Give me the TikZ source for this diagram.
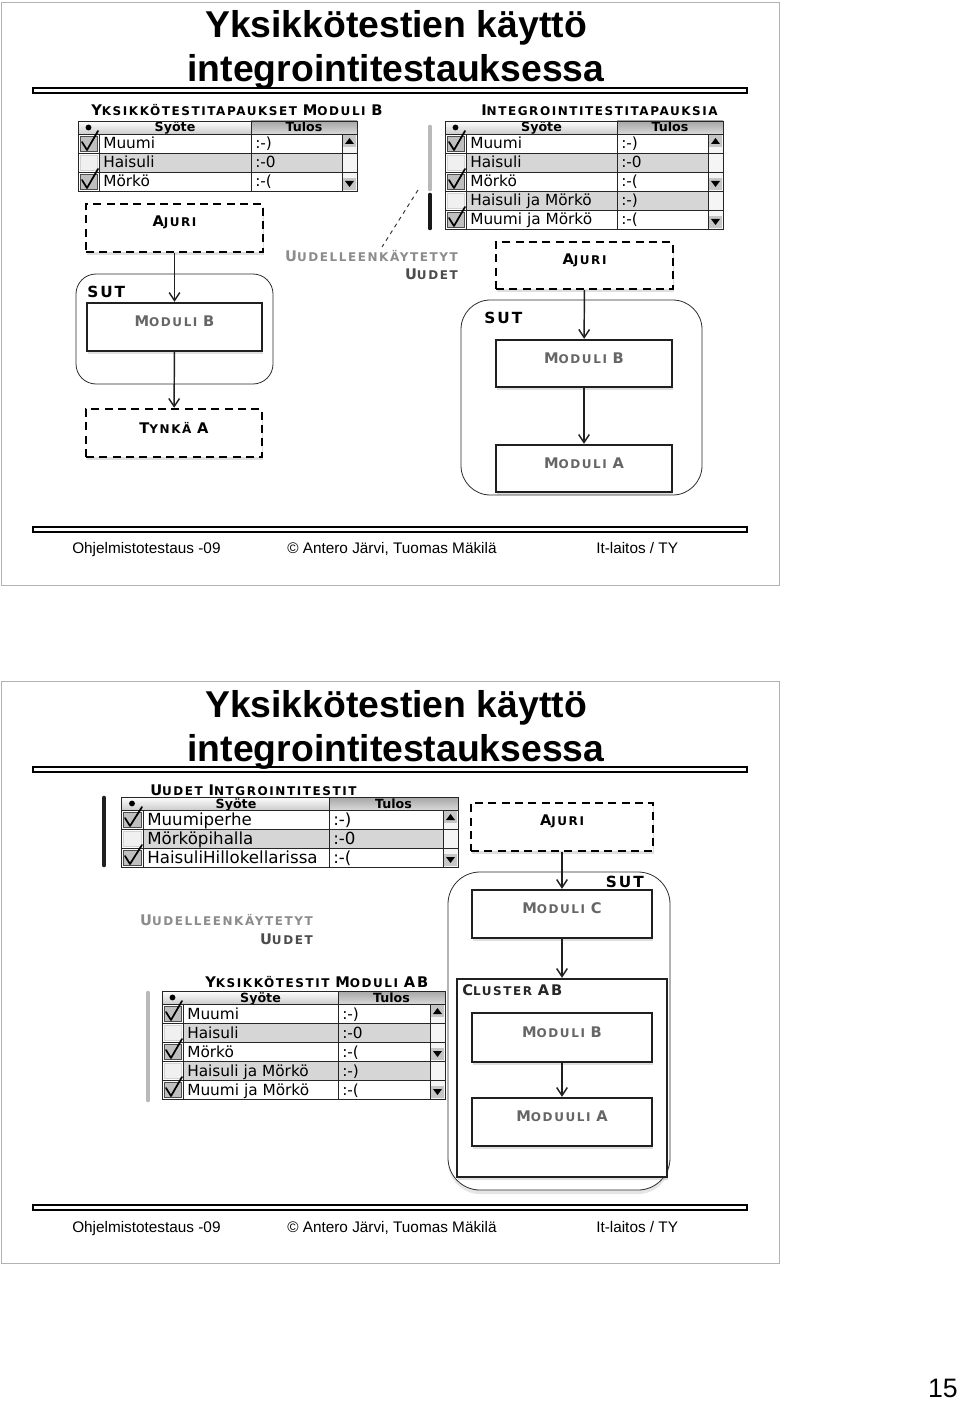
\documentclass[tikz,border=0pt]{standalone}
\usepackage{fontspec}
\setmainfont{Liberation Sans}
\newfontfamily\tabfont{DejaVu Sans}
\newfontfamily\capfont[LetterSpace=13]{DejaVu Sans}
\usetikzlibrary{arrows.meta,fit,shadows}

% bigger first letter for the small caps labels
\newcommand{\initc}[1]{{\fontsize{11}{12}\selectfont #1}}

% test case table: name, left, input col, result col, right, top, font size, rows
\newcommand{\testtable}[8]{%
\shade[top color=white, bottom color=gray!40] (#2,#6) rectangle (#4,#6+13);
\shade[top color=gray!70, bottom color=gray!30] (#4,#6) rectangle (#5,#6+13);
\fill (#2/2+#3/2,#6+6.5) circle (2.2pt);
\node[headtext] (#1-syote) at (#3/2+#4/2,#6+11) {Syöte};
\node[headtext] (#1-tulos) at (#4/2+#5/2,#6+11) {Tulos};
\draw[tabline] (#2,#6) rectangle (#5,#6+13) (#4,#6) -- (#4,#6+13);
\foreach \txt/\res/\chk/\shd/\arw [count=\i] in {#8} {
  \pgfmathsetmacro{\ya}{#6+13+(\i-1)*19}
  \pgfmathsetmacro{\yb}{\ya+19}
  \fill[white] (#2,\ya) rectangle (#5-15,\yb);
  \ifnum\shd=1 \fill[gray!32] (#3,\ya) rectangle (#5-15,\yb); \fi
  \fill[gray!8] (#5-15,\ya) rectangle (#5,\yb);
  \ifnum\arw=1
    \fill[gray!45] (#5-14,\ya+1) rectangle (#5-1,\ya+13);
    \fill (#5-12,\ya+10) -- (#5-3,\ya+10) -- (#5-7.5,\ya+4) -- cycle;
  \fi
  \ifnum\arw=2
    \fill[gray!45] (#5-14,\yb-13) rectangle (#5-1,\yb-1);
    \fill (#5-12,\yb-10) -- (#5-3,\yb-10) -- (#5-7.5,\yb-4) -- cycle;
  \fi
  \node[celltext, font=\tabfont\fontsize{#7}{14}\selectfont] (#1-in-\i) at (#3+4,\ya+15) {\txt};
  \node[celltext, font=\tabfont\fontsize{#7}{14}\selectfont] (#1-out-\i) at (#4+4,\ya+15) {\res};
  \draw[tabline] (#2,\ya) rectangle (#5,\yb) (#3,\ya) -- (#3,\yb)
     (#4,\ya) -- (#4,\yb) (#5-15,\ya) -- (#5-15,\yb);
  \ifnum\chk=1
    \filldraw[fill=gray!50, draw=gray!60!black] (#2+2,\ya+2) rectangle (#3-2,\yb-2);
    \draw[checkmark] (#2+4,\ya+8) -- (#2+9,\yb-3) -- (#3-1,\ya-3);
  \else
    \filldraw[fill=gray!12, draw=gray!35] (#2+2,\ya+2) rectangle (#3-2,\yb-2);
  \fi
}}

\begin{document}
\begin{tikzpicture}
[x=0.75pt,y=-0.75pt,
slideframe/.style={draw=gray!60, line width=0.6pt},
hrule/.style={draw=black, line width=0.8pt, fill=white},
title/.style={font=\bfseries\fontsize{28}{30}\selectfont, anchor=base, inner sep=0},
foot/.style={font=\fontsize{11.5}{13}\selectfont, anchor=base west, inner sep=0},
caption/.style={font=\capfont\bfseries\fontsize{9}{10}\selectfont, anchor=base west, inner sep=0},
reuse/.style={font=\capfont\bfseries\fontsize{9}{10}\selectfont, anchor=base east, inner sep=0},
headtext/.style={font=\tabfont\bfseries\fontsize{9.5}{10}\selectfont, anchor=base, inner sep=0},
celltext/.style={anchor=base west, inner sep=0},
tabline/.style={draw=gray!30!black, line width=0.6pt},
checkmark/.style={draw=black, line width=1.3pt, line cap=round, line join=round},
module/.style={draw=gray!25!black, line width=1.8pt, fill=white, inner sep=0,
  drop shadow={opacity=0.25, shadow xshift=1pt, shadow yshift=-2.5pt},
  font=\capfont\bfseries\fontsize{9}{10}\selectfont, text=black!60},
driver/.style={module, draw=black, dash pattern=on 6pt off 4pt, text=black},
cluster/.style={module, text=black!85},
sutbox/.style={draw=gray!35!black, line width=0.6pt, rounded corners=15pt, inner sep=0},
sutlabel/.style={font=\capfont\bfseries\fontsize{11.5}{12}\selectfont, inner sep=0},
bar/.style={line width=3.5pt, line cap=round},
line/.style={draw=gray!25!black, line width=1.1pt, -{Straight Barb[length=6pt,width=8pt]}}]
\fill[white] (0,0) rectangle (960,1401);
\useasboundingbox (0,0) rectangle (960,1401);

% slide 1
\draw[slideframe] (1,2) rectangle (779,585);
\draw[hrule] (33,88) rectangle (747,93);
\node[title] (titleA1) at (396,38) {Yksikkötestien käyttö};
\node[title] (titleA2) at (396,82) {integrointitestauksessa};
\node[caption] (capA) at (91,116) {\initc{Y}KSIKKÖTESTITAPAUKSET \initc{M}ODULI \initc{B}};
\node[caption] (capB) at (481,116) {\initc{I}NTEGROINTITESTITAPAUKSIA};
\testtable{tabA}{78}{99}{251}{357}{121}{11.5}{Muumi/{:-)}/1/0/1, Haisuli/{:-0}/0/1/0, Mörkö/{:-(}/1/0/2}
\testtable{tabB}{445}{466}{617}{723}{121}{11.5}{Muumi/{:-)}/1/0/1, Haisuli/{:-0}/0/1/0,
  Mörkö/{:-(}/1/0/2, Haisuli ja Mörkö/{:-)}/0/1/0, Muumi ja Mörkö/{:-(}/1/0/2}
\draw[bar, gray!55] (430,127) -- (430,189);
\draw[bar, gray!20!black] (430,195) -- (430,228);
\coordinate (reuseTop) at (418,190);
\coordinate (reuseEnd) at (382,247);
\draw[gray!40!black, dashed, line width=0.7pt] (reuseTop) -- (reuseEnd);
\node[reuse, text=black!45] (reuseA) at (458,262) {\initc{U}UDELLEENKÄYTETYT};
\node[reuse, text=black!70] (newA) at (458,280) {\initc{U}UDET};

\node[sutbox, fit={(76,274) (273,384)}] (sutA) {};
\node[sutlabel, anchor=base west] (sutAlab) at (87,297) {SUT};
\node[driver, fit={(86,204) (263,252)}] (ajuriA) {\initc{A}JURI};
\node[module, fit={(87,303) (262,351)}] (moduliBA) {\initc{M}ODULI \initc{B}};
\node[driver, fit={(86,409) (262,457)}] (tynkaA) {\initc{T}YNKÄ \initc{A}};

\node[sutbox, rounded corners=22pt, fit={(461,300) (702,495)}] (sutB) {};
\node[sutlabel, anchor=base west] (sutBlab) at (484,323) {SUT};
\node[driver, fit={(496,242) (673,289)}] (ajuriB) {\initc{A}JURI};
\node[module, fit={(496,340) (672,387)}] (moduliBB) {\initc{M}ODULI \initc{B}};
\node[module, fit={(496,445) (672,492)}] (moduliAB) {\initc{M}ODULI \initc{A}};

\begin{scope}[every path/.style=line]
\path (ajuriA) -- (moduliBA);
\path (moduliBA) -- (tynkaA);
\path (ajuriB) -- (moduliBB);
\path (moduliBB) -- (moduliAB);
\end{scope}

\draw[hrule] (33,527) rectangle (747,532);
\node[foot] (footA1) at (72,553) {Ohjelmistotestaus -09};
\node[foot] (footA2) at (287,553) {© Antero Järvi, Tuomas Mäkilä};
\node[foot] (footA3) at (596,553) {It-laitos / TY};

% slide 2
\draw[slideframe] (1,681) rectangle (779,1263);
\draw[hrule] (33,767) rectangle (747,772);
\node[title] (titleB1) at (396,717) {Yksikkötestien käyttö};
\node[title] (titleB2) at (396,761) {integrointitestauksessa};
\node[caption] (capC) at (150,795) {\initc{U}UDET \initc{I}NTGROINTITESTIT};
\testtable{tabC}{121}{143}{329}{458}{797}{12.5}{Muumiperhe/{:-)}/1/0/1,
  Mörköpihalla/{:-0}/0/1/0, HaisuliHillokellarissa/{:-(}/1/0/2}
\draw[bar, gray!25!black] (104,798) -- (104,865);
\node[reuse, text=black!45] (reuseB) at (313,925) {\initc{U}UDELLEENKÄYTETYT};
\node[reuse, text=black!70] (newB) at (313,944) {\initc{U}UDET};
\node[caption] (capD) at (205,987) {\initc{Y}KSIKKÖTESTIT \initc{M}ODULI \initc{AB}};
\testtable{tabD}{162}{183}{338}{445}{991}{11.5}{Muumi/{:-)}/1/0/1, Haisuli/{:-0}/0/1/0,
  Mörkö/{:-(}/1/0/2, Haisuli ja Mörkö/{:-)}/0/1/0, Muumi ja Mörkö/{:-(}/1/0/2}
\draw[bar, gray!55] (148,993) -- (148,1100);

\node[driver, fit={(471,803) (653,851)}] (ajuriC) {\initc{A}JURI};
\node[sutbox, rounded corners=24pt, fill=white,
  drop shadow={opacity=0.2, shadow xshift=0pt, shadow yshift=-3pt},
  fit={(448,872) (670,1190)}] (sutC) {};
\node[sutlabel, anchor=base east] (sutClab) at (644,887) {SUT};
\node[module, fit={(472,890) (652,938)}] (moduliCC) {\initc{M}ODULI \initc{C}};
\node[cluster, fit={(457,979) (667,1177)}] (clusterC) {};
\node[font=\capfont\bfseries\fontsize{9}{10}\selectfont, text=black!85, anchor=base west, inner sep=0]
  (clusterClab) at (462,995) {\initc{C}LUSTER \initc{AB}};
\node[module, fit={(472,1013) (652,1062)}] (moduliBC) {\initc{M}ODULI \initc{B}};
\node[module, fit={(472,1098) (652,1146)}] (moduliAC) {\initc{M}ODUULI \initc{A}};

\begin{scope}[every path/.style=line]
\path (ajuriC) -- (moduliCC);
\path (moduliCC) -- (clusterC);
\path (moduliBC) -- (moduliAC);
\end{scope}

\draw[hrule] (33,1205) rectangle (747,1210);
\node[foot] (footB1) at (72,1232) {Ohjelmistotestaus -09};
\node[foot] (footB2) at (287,1232) {© Antero Järvi, Tuomas Mäkilä};
\node[foot] (footB3) at (596,1232) {It-laitos / TY};

\node[font=\fontsize{20}{22}\selectfont, anchor=base east, inner sep=0] (pagenum) at (958,1397) {15};
\end{tikzpicture}
\end{document}
